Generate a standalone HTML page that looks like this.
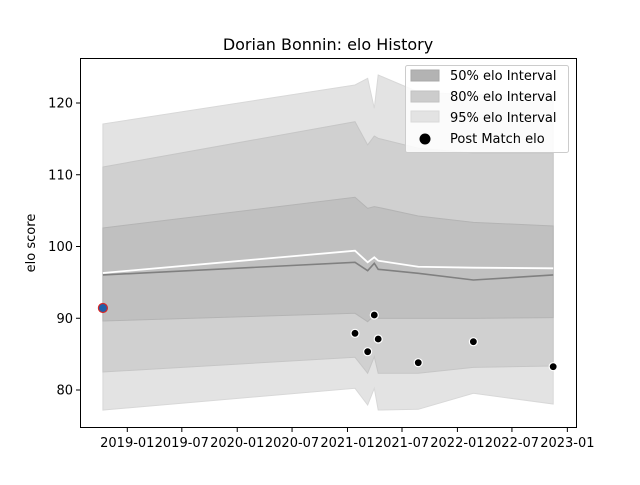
<!DOCTYPE html>
<html><head><meta charset="utf-8"><style>
body{margin:0;background:#fff;}
text{font-family:"DejaVu Sans","Liberation Sans",sans-serif;}
</style></head><body>
<svg id="chart" width="640" height="480" xmlns="http://www.w3.org/2000/svg">
<rect width="640" height="480" fill="#fff"/>
<text x="328" y="50" text-anchor="middle" font-size="16">Dorian Bonnin: elo History</text>
<g id="plot"></g>
<rect x="80.5" y="58.5" width="496" height="369" fill="none" stroke="#000" stroke-width="1"/>
<g id="axes"></g>
<text transform="translate(35,243) rotate(-90)" text-anchor="middle" font-size="13">elo score</text>
<g>
<rect x="405.5" y="65.5" width="163" height="87" rx="2" fill="#fff" fill-opacity="0.85" stroke="#ccc"/>
<rect x="411" y="70" width="28" height="11" fill="#b3b3b3" stroke="#a8a8a8"/>
<text x="450" y="80" font-size="13">50% elo Interval</text>
<rect x="411" y="91" width="28" height="11" fill="#cccccc" stroke="#c2c2c2"/>
<text x="450" y="101" font-size="13">80% elo Interval</text>
<rect x="411" y="111" width="28" height="11" fill="#e3e3e3" stroke="#dadada"/>
<text x="450" y="122" font-size="13">95% elo Interval</text>
<circle cx="425" cy="139" r="5.5" fill="#000"/>
<text x="450" y="143" font-size="13">Post Match elo</text>
</g>
</svg>
<script>
const dates=["2018-10-12","2021-01-26","2021-03-09","2021-03-31","2021-04-13","2021-08-24","2022-02-23","2022-11-15"];
const up95=[117.07,122.51,123.44,119.26,123.90,121.53,121.11,121.11];
const up80=[111.08,117.39,114.15,115.40,115.08,113.69,113.03,113.03];
const up50=[102.58,106.86,105.32,105.55,105.46,104.25,103.37,102.86];
const meanElo=[96.03,97.80,96.63,97.66,96.82,96.26,95.33,96.03];
const priorElo=[96.31,99.41,97.80,98.49,98.02,97.18,97.05,96.96];
const lo50=[89.62,90.69,89.52,90.45,89.99,89.99,89.99,90.08];
const lo80=[82.51,84.56,82.33,84.64,82.33,82.33,83.16,83.34];
const lo95=[77.21,80.24,77.91,80.24,77.21,77.31,79.54,78.05];
const postMatch=[91.43,87.90,85.34,90.45,87.11,83.81,86.73,83.25];
const yTicks=[80,90,100,110,120];
const xTicks=["2019-01","2019-07","2020-01","2020-07","2021-01","2021-07","2022-01","2022-07","2023-01"];

const NS="http://www.w3.org/2000/svg";
const t0=Date.parse("2019-01-01");
function xs(d){return 127.3+(Date.parse(d.length==7?d+"-01":d)-t0)/86400000*0.3012;}
function ys(v){return 390-(v-80)*7.175;}
const plot=document.getElementById('plot'),axes=document.getElementById('axes');
function mk(tag,attrs,parent){const e=document.createElementNS(NS,tag);for(const k in attrs)e.setAttribute(k,attrs[k]);parent.appendChild(e);return e;}
function band(u,l,fill,stroke,name){
  let p=dates.map((d,i)=>xs(d)+","+ys(u[i])).concat(dates.slice().reverse().map((d,j)=>{const i=dates.length-1-j;return xs(d)+","+ys(l[i]);}));
  const e=mk('polygon',{points:p.join(" "),fill:fill,stroke:stroke,'stroke-width':1},plot);
  
  
}
band(up95,lo95,"#e3e3e3","#d8d8d8","band-95");
band(up80,lo80,"#d0d0d0","#c6c6c6","band-80");
band(up50,lo50,"#c0c0c0","#b4b4b4","band-50");
function line(v,color,w,name){
  const e=mk('polyline',{points:dates.map((d,i)=>xs(d)+","+ys(v[i])).join(" "),fill:"none",stroke:color,'stroke-width':w},plot);
  
  
}
line(meanElo,"#808080",1.6,"mean-elo-line");
line(priorElo,"#ffffff",1.8,"prior-elo-line");
postMatch.forEach((v,i)=>{
  const first=i==0;
  const c=mk('circle',{cx:xs(dates[i]),cy:ys(v),r:first?4.5:4,fill:first?"#1f5fa8":"#000",stroke:first?"#d62728":"#fff",'stroke-width':1.2},plot);
  
  
});
yTicks.forEach(v=>{
  const y=ys(v);
  const t=mk('line',{x1:76,x2:80,y1:y,y2:y,stroke:"#000"},axes);
  
  
  const l=mk('text',{x:73,y:y+4.5,'text-anchor':'end','font-size':13},axes);
  l.textContent=v;
  
  
});
xTicks.forEach(d=>{
  const x=xs(d);
  const t=mk('line',{x1:x,x2:x,y1:428,y2:432,stroke:"#000"},axes);
  
  
  const l=mk('text',{x:x,y:447,'text-anchor':'middle','font-size':13},axes);
  l.textContent=d;
  
  
});
</script>
</body></html>
